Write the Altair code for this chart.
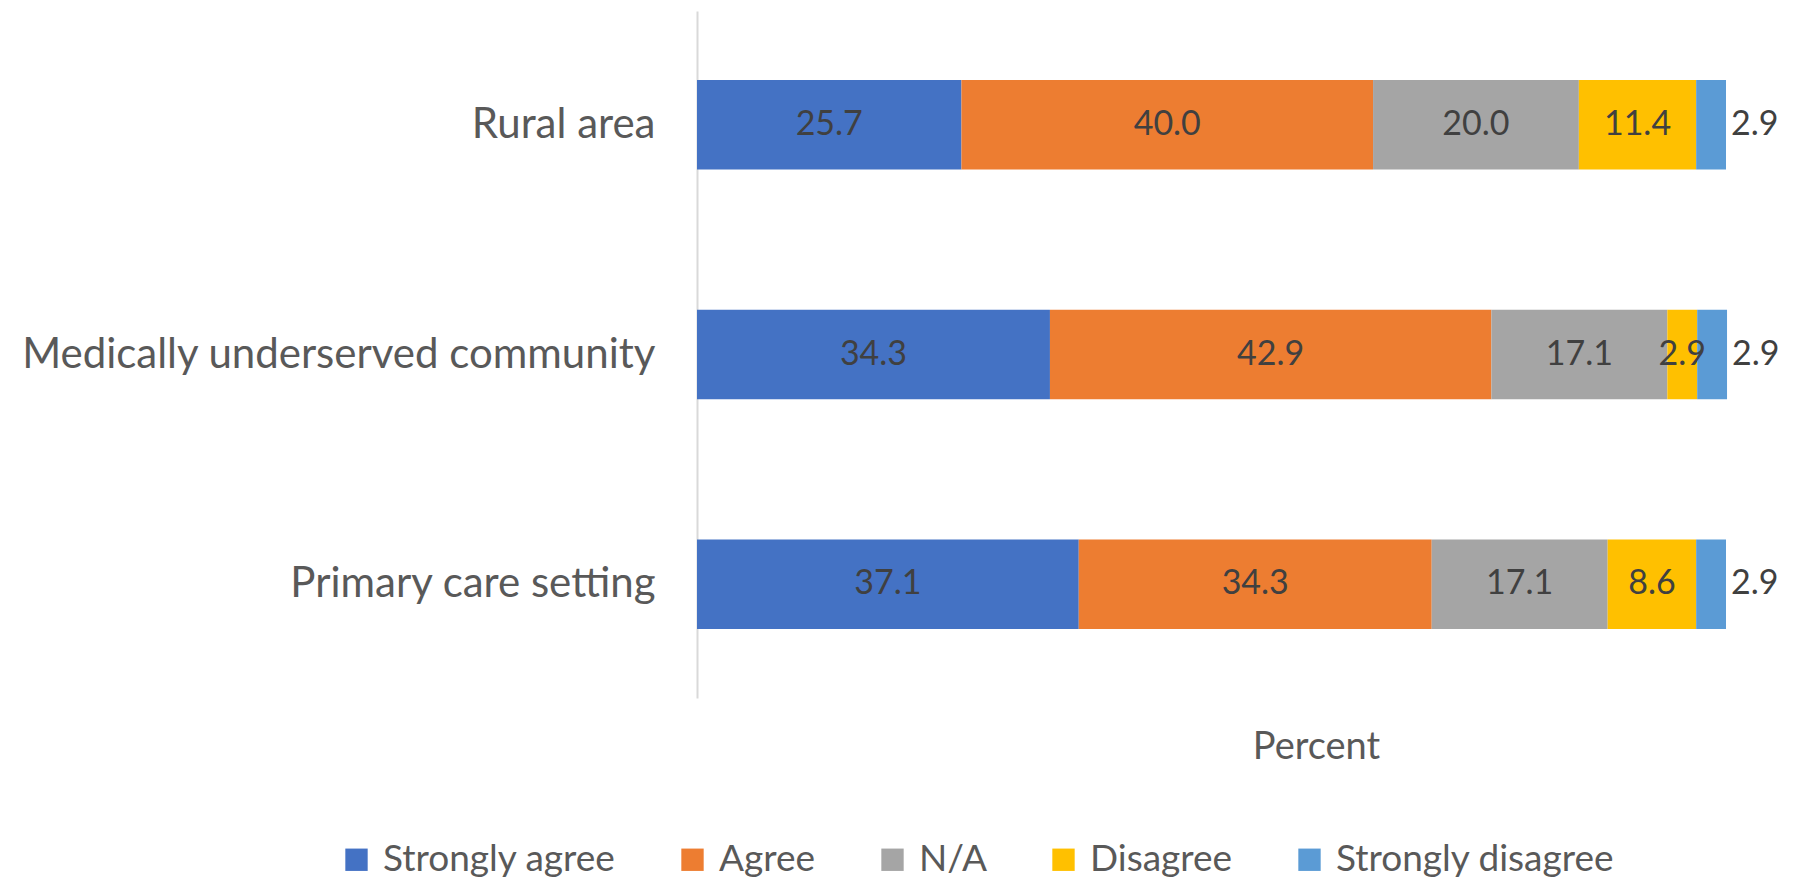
import altair as alt
import pandas as pd

categories = ["Rural area", "Medically underserved community", "Primary care setting"]
responses = ["Strongly agree", "Agree", "N/A", "Disagree", "Strongly disagree"]
colors = ["#4472C4", "#ED7D31", "#A5A5A5", "#FFC000", "#5B9BD5"]

strongly_agree = [25.7, 34.3, 37.1]
agree = [40.0, 42.9, 34.3]
na = [20.0, 17.1, 17.1]
disagree = [11.4, 2.9, 8.6]
strongly_disagree = [2.9, 2.9, 2.9]

series = [strongly_agree, agree, na, disagree, strongly_disagree]

rows = []
for ci, cat in enumerate(categories):
    start = 0.0
    for ri, resp in enumerate(responses):
        v = series[ri][ci]
        rows.append({
            "Category": cat,
            "Response": resp,
            "order": ri,
            "value": v,
            "start": start,
            "end": start + v,
            "mid": start + v / 2,
            "label": f"{v:.1f}",
        })
        start += v
df = pd.DataFrame(rows)

FONT = "Lato"

y_enc = alt.Y(
    "Category:N",
    sort=categories,
    scale=alt.Scale(paddingInner=0.61, paddingOuter=0.3),
    axis=alt.Axis(
        title=None,
        ticks=False,
        labelPadding=42,
        labelFontSize=42,
        labelColor="#595959",
        labelFont=FONT,
        domainColor="#D9D9D9",
        domainWidth=2,
        labelLimit=1000,
    ),
)

x_scale = alt.Scale(domain=[0, 100], nice=False, zero=True)

bars = alt.Chart(df).mark_bar().encode(
    x=alt.X(
        "start:Q",
        scale=x_scale,
        axis=alt.Axis(
            title="Percent",
            labels=False,
            ticks=False,
            domain=False,
            grid=False,
            titleFontSize=38,
            titleFont=FONT,
            titleFontWeight="normal",
            titleColor="#595959",
            titleX=619,
            titleY=49,
            titleAlign="center",
            titleBaseline="middle",
        ),
    ),
    x2="end:Q",
    y=y_enc,
    color=alt.Color(
        "Response:N",
        sort=responses,
        scale=alt.Scale(domain=responses, range=colors),
        legend=alt.Legend(
            title=None,
            orient="none",
            direction="horizontal",
            legendX=-359,
            legendY=830,
            symbolType="square",
            symbolSize=500,
            symbolStrokeWidth=0,
            labelFontSize=37,
            labelFont=FONT,
            labelColor="#595959",
            labelOffset=8,
            columnPadding=58,
            padding=0,
            labelLimit=1000,
        ),
    ),
    order=alt.Order("order:Q"),
)

inner = alt.Chart(df).transform_filter(
    alt.datum.Response != "Strongly disagree"
).mark_text(
    fontSize=34, font=FONT, color="#404040", align="center", baseline="middle"
).encode(
    x=alt.X("mid:Q", scale=x_scale),
    y=alt.Y("Category:N", sort=categories),
    text="label:N",
)

outer = alt.Chart(df).transform_filter(
    alt.datum.Response == "Strongly disagree"
).mark_text(
    fontSize=34, font=FONT, color="#404040", align="left", baseline="middle", dx=5
).encode(
    x=alt.X("end:Q", scale=x_scale),
    y=alt.Y("Category:N", sort=categories),
    text="label:N",
)

chart = alt.layer(bars, inner, outer).properties(
    width=1029,
    height=687,
    autosize=alt.AutoSizeParams(type="none"),
    padding={"left": 689, "top": 3, "right": 58, "bottom": 183},
).configure(background="white").configure_view(stroke=None)

chart.save("out.html", embed_options={"renderer": "svg", "actions": False})
